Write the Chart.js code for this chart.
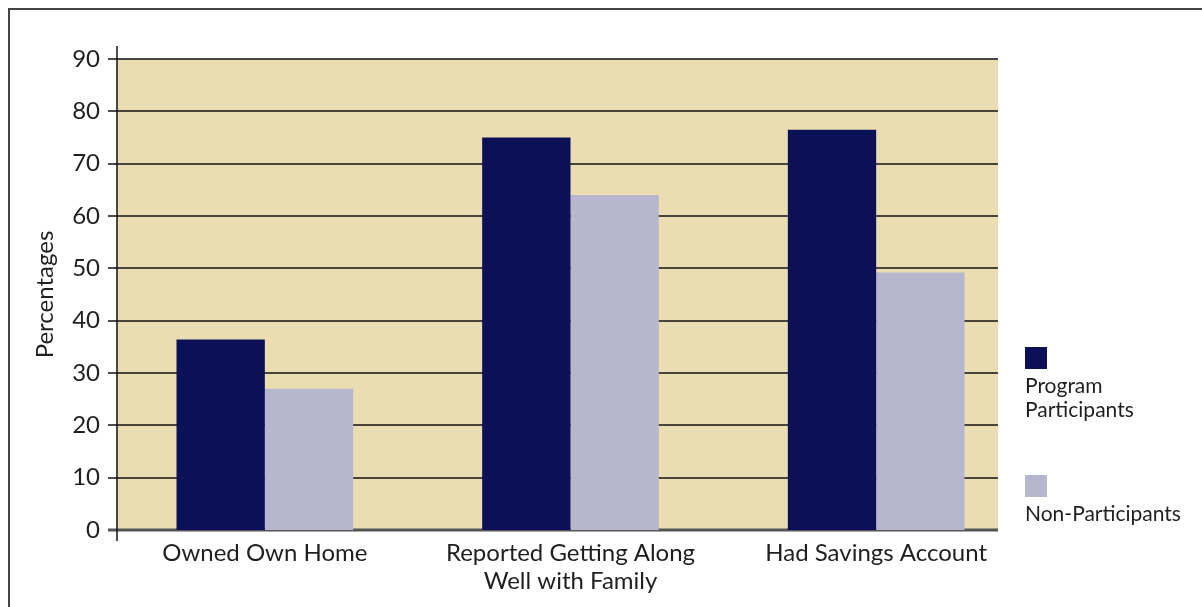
<!DOCTYPE html>
<html>
<head>
<meta charset="utf-8">
<script src="https://cdn.jsdelivr.net/npm/chart.js@4/dist/chart.umd.min.js"></script>
<style>
  html, body { margin: 0; padding: 0; background: #fff; }
  #wrap { position: relative; width: 1202px; height: 607px; }
</style>
</head>
<body>
<div id="wrap"><canvas id="chart" width="1202" height="607"></canvas></div>
<script>
const categories = [
  "Owned Own Home",
  ["Reported Getting Along", "Well with Family"],
  "Had Savings Account",
];
const participants = [36.4, 75, 76.5];
const nonParticipants = [27, 64, 49.2];
const seriesNames = ["Program Participants", "Non-Participants"];
const yTicks = [0, 10, 20, 30, 40, 50, 60, 70, 80, 90];

const FONT = "Lato, 'Noto Sans', sans-serif";
const TEXT = "#1f1f1f";

// the tan panel is a little narrower than the category band
const PANEL_INSET_LEFT = 5;
const PANEL_INSET_RIGHT = 31;

// plot background, grid, axis line, outer frame and the wrapped legend
const decor = {
  id: "decor",
  beforeDraw(chart) {
    const { ctx, chartArea: a } = chart;
    const y = chart.scales.y;
    const left = a.left + PANEL_INSET_LEFT;
    const right = a.right - PANEL_INSET_RIGHT;
    ctx.save();
    ctx.fillStyle = "#fff";
    ctx.fillRect(0, 0, chart.width, chart.height);
    ctx.fillStyle = "#EADDB1";
    ctx.fillRect(left, a.top, right - left, a.bottom - a.top);
    ctx.strokeStyle = "#444";
    ctx.lineWidth = 2;
    ctx.beginPath();
    ctx.moveTo(9, chart.height);
    ctx.lineTo(9, 9);
    ctx.lineTo(chart.width, 9);
    ctx.stroke();
    yTicks.forEach((v) => {
      const py = Math.round(y.getPixelForValue(v));
      ctx.strokeStyle = v === 0 ? "#555" : "#111";
      ctx.lineWidth = v === 0 ? 3 : 1.5;
      ctx.beginPath();
      ctx.moveTo(left - 9, py);
      ctx.lineTo(right, py);
      ctx.stroke();
    });
    ctx.restore();
  },
  afterDraw(chart) {
    const { ctx, chartArea: a } = chart;
    const left = a.left + PANEL_INSET_LEFT;
    const right = a.right - PANEL_INSET_RIGHT;
    ctx.save();
    ctx.strokeStyle = "#111";
    ctx.lineWidth = 1.5;
    ctx.beginPath();
    ctx.moveTo(left, a.top - 13);
    ctx.lineTo(left, a.bottom + 11);
    ctx.stroke();

    const x = right + 27;
    const items = [
      { y: 347, lines: ["Program", "Participants"] },
      { y: 475, lines: ["Non-Participants"] },
    ];
    ctx.font = "21px " + FONT;
    ctx.textBaseline = "middle";
    ctx.textAlign = "left";
    items.forEach((it, i) => {
      ctx.fillStyle = chart.data.datasets[i].backgroundColor;
      ctx.fillRect(x, it.y, 22, 22);
      ctx.fillStyle = TEXT;
      it.lines.forEach((t, j) => ctx.fillText(t, x, it.y + 39 + j * 24));
    });
    ctx.restore();
  },
};

new Chart(document.getElementById("chart"), {
  type: "bar",
  data: {
    labels: categories,
    datasets: [
      {
        label: seriesNames[0],
        data: participants,
        backgroundColor: "#0B1057",
        categoryPercentage: 0.578,
        barPercentage: 1,
      },
      {
        label: seriesNames[1],
        data: nonParticipants,
        backgroundColor: "#B6B7CF",
        categoryPercentage: 0.578,
        barPercentage: 1,
      },
    ],
  },
  plugins: [decor],
  options: {
    responsive: false,
    animation: false,
    layout: { padding: { left: 31, top: 59, right: 173, bottom: 0 } },
    scales: {
      x: {
        grid: { display: false },
        border: { display: false },
        ticks: { color: TEXT, font: { family: FONT, size: 24, lineHeight: 1.18 }, padding: 1, maxRotation: 0 },
        afterFit: (s) => { s.height = 77; },
      },
      y: {
        min: 0,
        max: 90,
        afterBuildTicks: (s) => { s.ticks = yTicks.map((v) => ({ value: v })); },
        grid: { display: false },
        border: { display: false },
        ticks: { color: TEXT, font: { family: FONT, size: 24 }, padding: 4 },
        title: {
          display: true,
          text: "Percentages",
          color: TEXT,
          font: { family: FONT, size: 24 },
          padding: { top: 0, bottom: 0 },
        },
        afterFit: (s) => { s.width = 81; },
      },
    },
    plugins: {
      legend: { display: false },
      tooltip: { enabled: false },
    },
  },
});
</script>
</body>
</html>
